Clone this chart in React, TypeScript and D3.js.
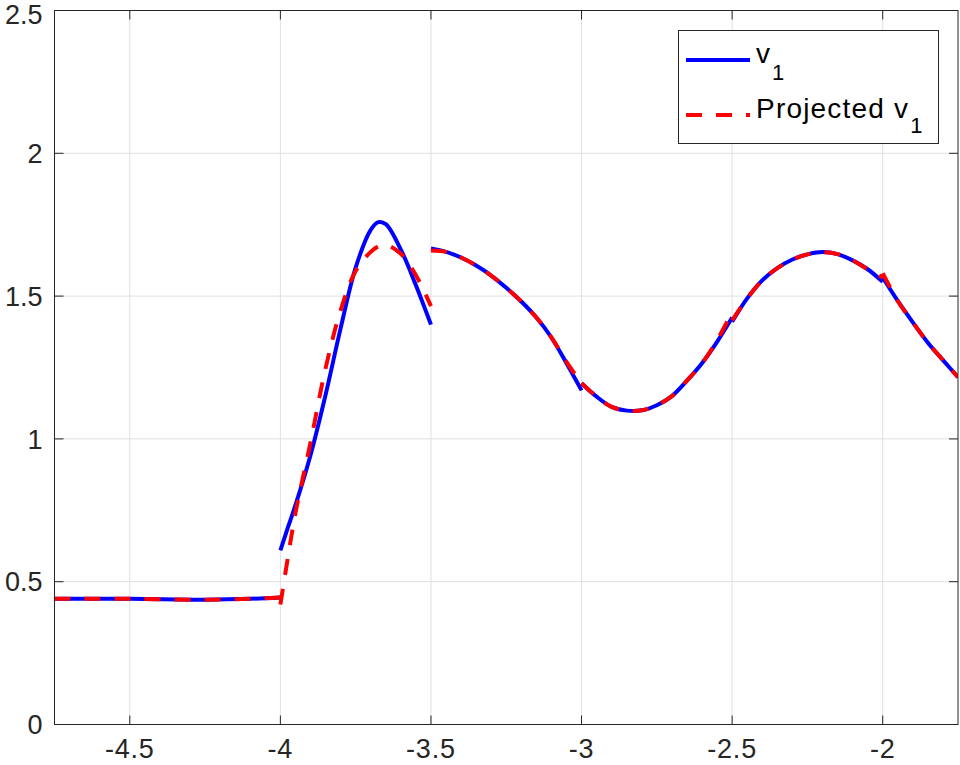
import React from 'react';
import * as d3 from 'd3';

const width = 960;
const height = 765;

// x nodes of each element and the values
const xSeg1 = [-4.75, -4.5, -4.25, -4.1, -4.0];
const v1Seg1 = [0.44, 0.44, 0.437, 0.44, 0.445];
const projSeg1 = [0.44, 0.44, 0.437, 0.44, 0.445];

const xSeg2 = [-4.0, -3.975, -3.95, -3.9, -3.85, -3.8, -3.75, -3.7, -3.675, -3.65, -3.6, -3.55, -3.5];
const v1Seg2 = [0.61, 0.69, 0.768, 0.943, 1.154, 1.387, 1.6, 1.732, 1.759, 1.752, 1.663, 1.538, 1.4];
const projSeg2 = [0.42, 0.585, 0.74, 0.987, 1.247, 1.45, 1.588, 1.655, 1.674, 1.68, 1.648, 1.573, 1.465];

const xSeg3 = [-3.5, -3.45, -3.4, -3.35, -3.3, -3.25, -3.2, -3.15, -3.1, -3.05, -3.0];
const v1Seg3 = [1.667, 1.655, 1.635, 1.607, 1.572, 1.529, 1.481, 1.425, 1.355, 1.265, 1.17];
const projSeg3 = [1.66, 1.655, 1.635, 1.607, 1.572, 1.529, 1.481, 1.425, 1.355, 1.27, 1.195];

const xSeg4 = [-3.0, -2.95, -2.9, -2.85, -2.8, -2.75, -2.7, -2.65, -2.6, -2.55, -2.5];
const v1Seg4 = [1.195, 1.148, 1.112, 1.099, 1.1, 1.118, 1.15, 1.204, 1.265, 1.34, 1.425];
const projSeg4 = [1.195, 1.148, 1.112, 1.099, 1.1, 1.118, 1.15, 1.204, 1.265, 1.345, 1.445];

const xSeg5 = [-2.5, -2.45, -2.4, -2.35, -2.3, -2.25, -2.2, -2.15, -2.1, -2.05, -2.0];
const v1Seg5 = [1.41, 1.492, 1.555, 1.598, 1.628, 1.646, 1.654, 1.647, 1.625, 1.594, 1.55];
const projSeg5 = [1.415, 1.492, 1.555, 1.598, 1.628, 1.646, 1.654, 1.647, 1.625, 1.594, 1.565];

const xSeg6 = [-2.0, -1.95, -1.9, -1.85, -1.8, -1.75];
const v1Seg6 = [1.565, 1.483, 1.408, 1.337, 1.276, 1.216];
const projSeg6 = [1.58, 1.483, 1.408, 1.337, 1.276, 1.216];

const xTicks = [-4.5, -4, -3.5, -3, -2.5, -2];
const yTicks = [0, 0.5, 1, 1.5, 2, 2.5];

const segX = [xSeg1, xSeg2, xSeg3, xSeg4, xSeg5, xSeg6];
const v1Segs = [v1Seg1, v1Seg2, v1Seg3, v1Seg4, v1Seg5, v1Seg6];
const projSegs = [projSeg1, projSeg2, projSeg3, projSeg4, projSeg5, projSeg6];

const left = 54.5;
const right = 958;
const top = 10.5;
const bottom = 724.5;

const x = d3.scaleLinear().domain([-4.75, -1.75]).range([left, right]);
const y = d3.scaleLinear().domain([0, 2.5]).range([bottom, top]);

const line = d3
  .line<[number, number]>()
  .x(d => x(d[0]))
  .y(d => y(d[1]))
  .curve(d3.curveCatmullRom.alpha(0.5));

const font = '"Liberation Sans", Arial, Helvetica, sans-serif';
const axisColor = '#262626';
const gridColor = '#e0e0e0';
const tickLen = 9;

const App = () => {
  const pts = (xs: number[], ys: number[]) => xs.map((v, i) => [v, ys[i]] as [number, number]);

  return (
    <svg
      width={width}
      height={height}
      style={{ position: 'absolute', left: 0, top: 0, background: '#fff' }}
      fontFamily={font}
    >
      <defs>
        <clipPath id="plotArea">
          <rect x={left} y={top} width={right - left} height={bottom - top} />
        </clipPath>
      </defs>
      <rect x={0} y={0} width={width} height={height} fill="#fff" />

      {/* grid */}
      <g stroke={gridColor} strokeWidth={1}>
        {xTicks.map(t => (
          <line key={'gx' + t} x1={x(t)} x2={x(t)} y1={top} y2={bottom} />
        ))}
        {yTicks.map(t => (
          <line key={'gy' + t} x1={left} x2={right} y1={y(t)} y2={y(t)} />
        ))}
      </g>

      {/* data */}
      <g clipPath="url(#plotArea)" fill="none">
        {segX.map((xs, i) => (
          <path key={'b' + i} d={line(pts(xs, v1Segs[i])) || ''} stroke="#0000ff" strokeWidth={4} />
        ))}
        {segX.map((xs, i) => (
          <path
            key={'r' + i}
            d={line(pts(xs, projSegs[i])) || ''}
            stroke="#ff0000"
            strokeWidth={4}
            strokeDasharray="16 14"
          />
        ))}
      </g>

      {/* axes box and ticks */}
      <rect x={left} y={top} width={right - left} height={bottom - top} fill="none" stroke={axisColor} strokeWidth={1} />
      <g stroke={axisColor} strokeWidth={1}>
        {xTicks.map(t => (
          <g key={'tx' + t}>
            <line x1={x(t)} x2={x(t)} y1={bottom} y2={bottom - tickLen} />
            <line x1={x(t)} x2={x(t)} y1={top} y2={top + tickLen} />
          </g>
        ))}
        {yTicks.map(t => (
          <g key={'ty' + t}>
            <line x1={left} x2={left + tickLen} y1={y(t)} y2={y(t)} />
            <line x1={right} x2={right - tickLen} y1={y(t)} y2={y(t)} />
          </g>
        ))}
      </g>
      <g fill={axisColor} fontSize={27}>
        {xTicks.map(t => (
          <text key={'lx' + t} x={x(t)} y={bottom + 33} textAnchor="middle" letterSpacing={0.8}>
            {String(t)}
          </text>
        ))}
        {yTicks.map(t => (
          <text key={'ly' + t} x={left - 12} y={Math.max(y(t), 14)} dy="0.36em" textAnchor="end">
            {String(t)}
          </text>
        ))}
      </g>

      {/* legend */}
      <g>
        <rect x={678.5} y={30.5} width={260} height={113} fill="#fff" stroke={axisColor} strokeWidth={1} />
        <line x1={686} x2={750} y1={60} y2={60} stroke="#0000ff" strokeWidth={4} />
        <line x1={686} x2={750} y1={115} y2={115} stroke="#ff0000" strokeWidth={4} strokeDasharray="16 14" />
        <text x={756} y={63} fontSize={28} fill="#000">
          v<tspan fontSize={22} dx={2} dy={17}>1</tspan>
        </text>
        <text x={756} y={118} fontSize={28} fill="#000" letterSpacing={1.2}>
          Projected v<tspan fontSize={22} dx={1} dy={15}>1</tspan>
        </text>
      </g>
    </svg>
  );
};

export default App;
